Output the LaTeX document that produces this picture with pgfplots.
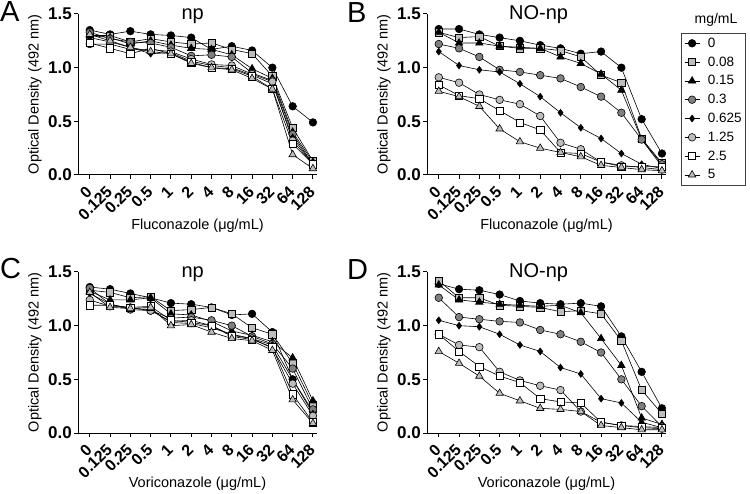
\documentclass[border=0pt]{standalone}
\usepackage{pgfplots}
\pgfplotsset{compat=1.18}
\usepackage{pgfplotstable}
\usepackage{fontspec}
\setmainfont{Liberation Sans}

\definecolor{lg}{HTML}{BDBDBD}
\definecolor{dg}{HTML}{808080}

% x index: 0=0, 1=0.125, 2=0.25, 3=0.5, 4=1, 5=2, 6=4, 7=8, 8=16, 9=32, 10=64, 11=128
\pgfplotstableread{
x s0 s008 s015 s03 s0625 s125 s25 s5
0 1.35 1.30 1.30 1.33 1.28 1.22 1.23 1.31
1 1.31 1.30 1.28 1.27 1.24 1.22 1.18 1.25
2 1.34 1.24 1.22 1.24 1.19 1.17 1.13 1.19
3 1.31 1.27 1.25 1.23 1.13 1.17 1.18 1.15
4 1.30 1.24 1.21 1.19 1.14 1.15 1.13 1.13
5 1.28 1.22 1.18 1.11 1.06 1.08 1.05 1.04
6 1.17 1.23 1.17 1.12 1.02 1.03 1.00 1.00
7 1.20 1.17 1.12 1.10 1.00 1.02 0.99 0.98
8 1.16 1.13 0.99 0.95 0.93 0.94 0.92 0.90
9 1.00 0.92 0.90 0.88 0.85 0.87 0.80 0.80
10 0.64 0.44 0.40 0.38 0.35 0.32 0.29 0.19
11 0.49 0.13 0.12 0.10 0.10 0.10 0.10 0.06
}\tabA

\pgfplotstableread{
x s0 s008 s015 s03 s0625 s125 s25 s5
0 1.36 1.33 1.33 1.22 1.15 0.91 0.84 0.78
1 1.36 1.28 1.23 1.18 1.02 0.86 0.74 0.73
2 1.31 1.29 1.23 1.10 0.98 0.75 0.71 0.64
3 1.28 1.20 1.20 0.98 0.96 0.70 0.60 0.43
4 1.25 1.18 1.19 0.96 0.85 0.66 0.49 0.31
5 1.21 1.18 1.18 0.93 0.73 0.55 0.42 0.25
6 1.18 1.16 1.10 0.90 0.58 0.30 0.21 0.21
7 1.13 1.10 1.04 0.82 0.44 0.24 0.20 0.17
8 1.15 0.93 0.94 0.73 0.34 0.12 0.12 0.09
9 1.00 0.86 0.79 0.58 0.20 0.09 0.08 0.07
10 0.52 0.34 0.33 0.33 0.10 0.07 0.08 0.05
11 0.20 0.11 0.08 0.10 0.06 0.05 0.08 0.04
}\tabB

\pgfplotstableread{
x s0 s008 s015 s03 s0625 s125 s25 s5
0 1.36 1.33 1.32 1.35 1.30 1.24 1.19 1.31
1 1.34 1.31 1.24 1.20 1.20 1.18 1.19 1.17
2 1.30 1.26 1.24 1.15 1.16 1.17 1.17 1.16
3 1.26 1.27 1.26 1.14 1.15 1.14 1.18 1.17
4 1.21 1.14 1.11 1.07 1.03 1.04 1.05 1.00
5 1.20 1.15 1.10 1.08 1.02 1.05 1.03 1.01
6 1.17 1.17 1.04 1.05 0.98 1.00 1.00 0.94
7 1.10 1.11 0.95 1.00 0.92 0.91 0.90 0.88
8 1.11 0.98 0.91 0.90 0.88 0.88 0.87 0.86
9 0.94 0.92 0.85 0.83 0.82 0.79 0.80 0.77
10 0.50 0.65 0.70 0.60 0.50 0.46 0.36 0.31
11 0.20 0.26 0.30 0.22 0.18 0.16 0.10 0.09
}\tabC

\pgfplotstableread{
x s0 s008 s015 s03 s0625 s125 s25 s5
0 1.39 1.42 1.38 1.26 1.05 0.92 0.92 0.76
1 1.34 1.26 1.24 1.08 1.00 0.82 0.76 0.65
2 1.33 1.26 1.22 1.06 0.99 0.80 0.62 0.53
3 1.29 1.19 1.20 1.04 0.92 0.57 0.53 0.37
4 1.23 1.18 1.19 1.03 0.82 0.49 0.47 0.30
5 1.21 1.17 1.18 0.96 0.76 0.44 0.32 0.23
6 1.20 1.13 1.19 0.92 0.61 0.40 0.29 0.22
7 1.21 1.14 1.12 0.85 0.55 0.20 0.28 0.20
8 1.18 1.11 0.88 0.75 0.32 0.10 0.10 0.07
9 0.90 0.86 0.63 0.50 0.28 0.07 0.07 0.05
10 0.57 0.40 0.14 0.25 0.10 0.05 0.06 0.03
11 0.23 0.18 0.08 0.06 0.05 0.04 0.05 0.03
}\tabD

\tikzset{ptitle/.style={anchor=base, inner sep=0pt, font=\fontsize{20}{20}\selectfont, yshift=-6pt}}

\pgfplotsset{
  panel/.style={
    scale only axis, width=239pt, height=161pt,
    xmin=-0.58, xmax=11.2, ymin=0, ymax=1.5,
    axis x line*=bottom, axis y line*=left,
    axis line style={line width=1pt, black},
    xtick={0,...,11},
    xticklabels={0,0.125,0.25,0.5,1,2,4,8,16,32,64,128},
    ytick={0,0.5,1,1.5},
    tick align=outside, major tick length=4pt,
    tick style={line width=1pt, black},
    xticklabel shift=9pt,
    xticklabel style={rotate=45, anchor=east, inner sep=1pt,
      font=\fontsize{16}{16}\selectfont\bfseries},
    yticklabel style={font=\fontsize{17}{17}\selectfont\bfseries, inner sep=2pt,
      /pgf/number format/fixed, /pgf/number format/fixed zerofill,
      /pgf/number format/precision=1, /pgf/number format/assume math mode=true},
    ylabel={Optical Density (492 nm)},
    ylabel style={font=\fontsize{14.5}{15}\selectfont, at={(axis description cs:-0.18,0.5)},
      anchor=center},
    xlabel style={font=\fontsize{14.5}{15}\selectfont, at={(axis description cs:0.5,0)},
      anchor=center, yshift=-51pt},
    clip=false,
    legend cell align=left,
    legend image code/.code={\draw[mark repeat=2, mark phase=2] plot coordinates {(0pt,0pt) (7.5pt,0pt) (15pt,0pt)};},
  },
  p0/.style={black, line width=0.6pt, mark=*, mark size=3.8pt, mark options={fill=black, draw=black, line width=0.6pt}},
  p008/.style={black, line width=0.6pt, mark=square*, mark size=3.6pt, mark options={fill=lg, draw=black, line width=0.6pt}},
  p015/.style={black, line width=0.6pt, mark=triangle*, mark size=4.3pt, mark options={fill=black, draw=black, line width=0.6pt}},
  p03/.style={black, line width=0.6pt, mark=*, mark size=3.8pt, mark options={fill=dg, draw=black, line width=0.6pt}},
  p0625/.style={black, line width=0.6pt, mark=diamond*, mark size=3.4pt, mark options={fill=black, draw=black, line width=0.6pt}},
  p125/.style={black, line width=0.6pt, mark=*, mark size=3.8pt, mark options={fill=lg, draw=black, line width=0.6pt}},
  p25/.style={black, line width=0.6pt, mark=square*, mark size=3.6pt, mark options={fill=white, draw=black, line width=0.6pt}},
  p5/.style={black, line width=0.6pt, mark=triangle*, mark size=4.3pt, mark options={fill=lg, draw=black, line width=0.6pt}},
}

\newcommand{\allseries}[1]{%
  \addplot[p0] table[x=x, y=s0]{#1};
  \addplot[p008] table[x=x, y=s008]{#1};
  \addplot[p015] table[x=x, y=s015]{#1};
  \addplot[p03] table[x=x, y=s03]{#1};
  \addplot[p0625] table[x=x, y=s0625]{#1};
  \addplot[p125] table[x=x, y=s125]{#1};
  \addplot[p25] table[x=x, y=s25]{#1};
  \addplot[p5] table[x=x, y=s5]{#1};
}

\begin{document}
\begin{tikzpicture}
\path[use as bounding box] (0pt,0pt) rectangle (750pt,-494pt);

\begin{axis}[panel, at={(78pt,-175pt)}, anchor=south west,
  xlabel={Fluconazole (μg/mL)}]
\allseries{\tabA}
\node[ptitle] at (axis description cs:0.48,1) {np};
\end{axis}

\begin{axis}[panel, at={(427pt,-175pt)}, anchor=south west,
  xlabel={Fluconazole (μg/mL)},
  legend style={at={(axis description cs:1,1)}, anchor=north west,
    xshift=15pt, yshift=-19pt, draw=black!75, line width=0.6pt,
    font=\fontsize{13.5}{13.5}\selectfont, row sep=4.8pt, inner sep=3pt,
    nodes={inner sep=1pt, text height=10pt, text depth=2pt},
    /tikz/every odd column/.append style={column sep=7pt}},
  legend entries={0,0.08,0.15,0.3,0.625,1.25,2.5,5}]
\allseries{\tabB}
\node[ptitle] at (axis description cs:0.467,1) {NO-np};
\end{axis}

\begin{axis}[panel, at={(78pt,-433pt)}, anchor=south west,
  xlabel={Voriconazole (μg/mL)}]
\allseries{\tabC}
\node[ptitle] at (axis description cs:0.48,1) {np};
\end{axis}

\begin{axis}[panel, at={(427pt,-433pt)}, anchor=south west,
  xlabel={Voriconazole (μg/mL)}]
\allseries{\tabD}
\node[ptitle] at (axis description cs:0.467,1) {NO-np};
\end{axis}

\node[anchor=center, font=\fontsize{14}{14}\selectfont] at (716pt,-20pt) {mg/mL};

\node[anchor=base west, inner sep=0pt, font=\fontsize{29}{29}\selectfont] at (0pt,-22pt) {A};
\node[anchor=base west, inner sep=0pt, font=\fontsize{29}{29}\selectfont] at (347pt,-23pt) {B};
\node[anchor=base west, inner sep=0pt, font=\fontsize{29}{29}\selectfont] at (0pt,-279pt) {C};
\node[anchor=base west, inner sep=0pt, font=\fontsize{29}{29}\selectfont] at (347pt,-280pt) {D};
\end{tikzpicture}
\end{document}
